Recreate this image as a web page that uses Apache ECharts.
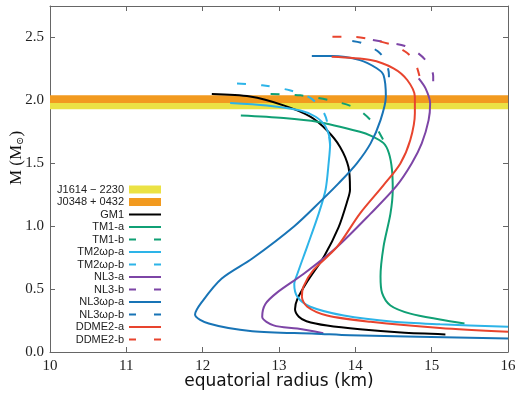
<!DOCTYPE html>
<html>
<head>
<meta charset="UTF-8">
<title>Mass - equatorial radius</title>
<script src="https://cdn.jsdelivr.net/npm/echarts/dist/echarts.min.js"></script>
<style>
    html, body { margin: 0; padding: 0; background: #fff; }
    #main { width: 520px; height: 393px; }
</style>
</head>
<body>
<div id="main"></div>
<script>
// pulsar mass bands (Msun): [low, high]
var bandJ1614 = [1.93, 2.00];
var bandJ0348 = [1.98, 2.04];

// curves: [equatorial radius (km), M (Msun)]
var gm1 = [[12.12,2.05],[12.62,2.03],[13.06,1.96],[13.41,1.87],[13.63,1.76],[13.80,1.63],[13.91,1.47],[13.93,1.29],[13.90,1.21],[13.78,0.99],[13.59,0.76],[13.37,0.56],[13.24,0.42],[13.21,0.34],[13.26,0.28],[13.36,0.245],[13.63,0.21],[14.06,0.18],[14.6,0.155],[15.18,0.14]];
var tm1a = [[12.50,1.88],[13.06,1.86],[13.50,1.83],[14.06,1.75],[14.20,1.72],[14.37,1.66],[14.44,1.58],[14.48,1.45],[14.49,1.29],[14.46,1.10],[14.37,0.84],[14.33,0.60],[14.35,0.47],[14.46,0.37],[14.72,0.305],[15.11,0.258],[15.43,0.226]];
var tm1b = [[12.89,2.05],[13.28,2.04],[13.67,2.00],[14.00,1.94],[14.22,1.83],[14.37,1.68],[14.44,1.59]];
var tm2a = [[12.36,1.98],[12.84,1.96],[13.28,1.92],[13.48,1.87],[13.61,1.79],[13.67,1.66],[13.65,1.50],[13.61,1.29],[13.52,1.10],[13.37,0.84],[13.24,0.62],[13.20,0.54],[13.24,0.44],[13.41,0.36],[13.85,0.29],[14.50,0.24],[15.11,0.22],[16.0,0.20]];
var tm2b = [[12.45,2.135],[12.78,2.12],[13.14,2.08],[13.41,2.02],[13.57,1.92],[13.63,1.83],[13.67,1.64]];
var nl3a = [[14.83,2.175],[14.92,2.095],[14.98,1.976],[14.96,1.843],[14.87,1.658],[14.74,1.50],[14.54,1.32],[14.20,1.10],[13.76,0.835],[13.32,0.62],[12.97,0.47],[12.82,0.38],[12.78,0.28],[12.93,0.212],[13.24,0.186],[13.58,0.149]];
var nl3b = [[14.23,2.48],[14.46,2.456],[14.65,2.432],[14.82,2.376],[14.95,2.297],[15.02,2.193],[15.02,2.106]];
var nl3wa = [[13.43,2.352],[13.69,2.352],[14.06,2.32],[14.28,2.255],[14.37,2.20],[14.40,2.03],[14.33,1.843],[14.20,1.658],[14.02,1.50],[13.78,1.34],[13.56,1.207],[13.20,1.0],[12.65,0.743],[12.25,0.584],[11.99,0.398],[11.90,0.298],[12.08,0.226],[12.65,0.165],[13.48,0.146],[13.93,0.133],[16.0,0.107]];
var nl3wb = [[13.96,2.472],[14.09,2.455],[14.29,2.392],[14.39,2.321],[14.44,2.202],[14.44,2.13]];
var ddme2a = [[13.69,2.347],[14.20,2.321],[14.50,2.255],[14.68,2.162],[14.78,2.029],[14.78,1.897],[14.72,1.685],[14.59,1.499],[14.37,1.326],[14.06,1.10],[13.76,0.835],[13.45,0.65],[13.32,0.52],[13.30,0.44],[13.37,0.36],[13.63,0.29],[14.20,0.24],[15.11,0.19],[16.0,0.16]];
var ddme2b = [[13.70,2.506],[14.00,2.504],[14.30,2.472],[14.52,2.432],[14.68,2.376],[14.78,2.305],[14.84,2.193]];

var yellow = '#ebe244';
var orange = '#f29a1f';
var dash = [9, 15];

var myChart = echarts.init(document.getElementById('main'));

function band(name, range, color) {
    return {
        name: name,
        type: 'line',
        data: [],
        symbol: 'none',
        z: 1,
        itemStyle: { color: color },
        lineStyle: { color: color },
        markArea: {
            silent: true,
            itemStyle: { color: color, opacity: 1 },
            data: [[{ yAxis: range[0] }, { yAxis: range[1] }]]
        }
    };
}

function curve(name, data, color, dashed) {
    return {
        name: name,
        type: 'line',
        data: data,
        symbol: 'none',
        smooth: 0.3,
        z: 3,
        itemStyle: { color: color },
        lineStyle: { color: color, width: 2, type: dashed ? dash : 'solid' }
    };
}

var series = [
    band('J1614 − 2230', bandJ1614, yellow),
    band('J0348 + 0432', bandJ0348, orange),
    curve('GM1', gm1, '#000000', false),
    curve('TM1-a', tm1a, '#10a075', false),
    curve('TM1-b', tm1b, '#10a075', true),
    curve('TM2ωρ-a', tm2a, '#2db4e8', false),
    curve('TM2ωρ-b', tm2b, '#2db4e8', true),
    curve('NL3-a', nl3a, '#7d45a6', false),
    curve('NL3-b', nl3b, '#7d45a6', true),
    curve('NL3ωρ-a', nl3wa, '#1874b6', false),
    curve('NL3ωρ-b', nl3wb, '#1874b6', true),
    curve('DDME2-a', ddme2a, '#e8442e', false),
    curve('DDME2-b', ddme2b, '#e8442e', true)
];

// legend entries: bands as boxes, lines without the marker dot,
// dashed ones get a short "- -" icon
var legendData = series.map(function (s) {
    if (s.markArea) {
        return { name: s.name, icon: 'rect', itemStyle: { color: s.itemStyle.color } };
    }
    var item = { name: s.name, itemStyle: { opacity: 0 } };
    if (s.lineStyle.type !== 'solid') {
        item.lineStyle = { type: [7, 18] };
    }
    return item;
});

var axisGrey = '#666';

function xAx(top) {
    return {
        type: 'value',
        position: top ? 'top' : 'bottom',
        min: 10, max: 16, interval: 1,
        name: top ? '' : 'equatorial radius (km)',
        nameLocation: 'middle',
        nameGap: 21,
        nameMoveOverlap: false,
        nameTextStyle: { fontSize: 17, color: '#111', fontFamily: 'DejaVu Sans' },
        axisLine: { onZero: false, lineStyle: { color: axisGrey } },
        axisTick: { inside: true, length: 5, lineStyle: { color: axisGrey } },
        axisLabel: { show: !top, fontFamily: 'Liberation Serif', fontSize: 15, color: '#222', margin: 7 },
        splitLine: { show: false }
    };
}

function yAx(right) {
    return {
        type: 'value',
        position: right ? 'right' : 'left',
        min: 0, max: 2.75, interval: 0.5,
        name: right ? '' : 'M (M{s|⊙})',
        nameLocation: 'middle',
        nameGap: 25,
        nameMoveOverlap: false,
        nameTextStyle: {
            fontSize: 17, color: '#111', fontFamily: 'Liberation Serif',
            padding: [0, 0, 0, 42],
            rich: { s: { fontSize: 10, fontFamily: 'DejaVu Serif', color: '#111', verticalAlign: 'bottom', padding: [6, 0, 0, 0] } }
        },
        axisLine: { onZero: false, lineStyle: { color: axisGrey } },
        axisTick: { inside: true, length: 5, lineStyle: { color: axisGrey } },
        axisLabel: {
            show: !right, showMaxLabel: false,
            fontFamily: 'Liberation Serif', fontSize: 15, color: '#222', margin: 6,
            formatter: function (v) { return v.toFixed(1); }
        },
        splitLine: { show: false }
    };
}

var option = {
    animation: false,
    backgroundColor: '#fff',
    grid: { left: 50, right: 12, top: 6, bottom: 41, containLabel: false, outerBoundsMode: 'none' },
    legend: {
        orient: 'vertical',
        right: 353,
        top: 179,
        align: 'right',
        itemWidth: 32,
        itemHeight: 8,
        itemGap: 1.5,
        textStyle: { fontSize: 11, color: '#222', fontFamily: 'Liberation Sans' },
        data: legendData
    },
    xAxis: [xAx(false), xAx(true)],
    yAxis: [yAx(false), yAx(true)],
    series: series
};

myChart.setOption(option);
</script>
</body>
</html>
